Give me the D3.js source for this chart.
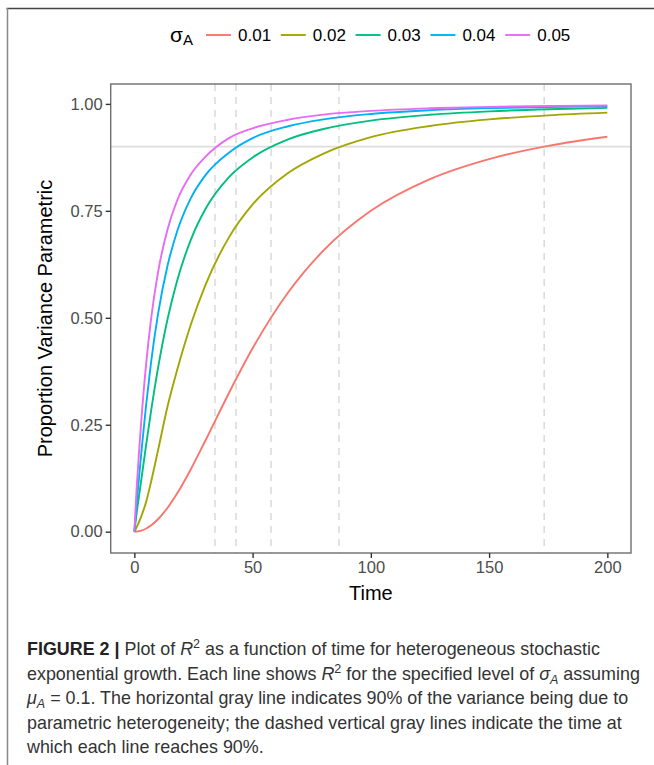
<!DOCTYPE html>
<html lang="en">
  <head>
    <meta charset="utf-8">
    <script src="https://d3js.org/d3.v7.min.js"></script>
    <style>
      body { margin: 0; background: #fff; }
      text { font-family: "Liberation Sans", Arial, sans-serif; }
    </style>
  </head>
  <body>
    <svg id="fig"></svg>
    <script type="text/javascript">

    // time points shared by all curves
    var time = [0,1,2,3,5,7,10,14,18,24,30,40,50,65,80,100,125,150,175,200];

    // proportion of variance, one array per sigma_A level
    var r2_001 = [0,.0003,.0012,.0027,.0075,.0145,.0291,.0555,.0886,.1473,.2126,.3243,.4286,.559,.6575,.75,.8242,.871,.9018,.9231];
    var r2_002 = [0,.011,.023,.037,.070,.115,.190,.292,.376,.486,.576,.688,.765,.8386,.884,.9224,.9484,.9637,.9732,.9795];
    var r2_003 = [0,.0453,.0842,.124,.2034,.2794,.3822,.496,.585,.684,.7536,.8288,.8748,.917,.9414,.9609,.9746,.9826,.9876,.9907];
    var r2_004 = [0,.067,.128,.1876,.2975,.393,.5085,.621,.7006,.781,.833,.886,.920,.9477,.9639,.9764,.9851,.990,.9929,.9948];
    var r2_005 = [0,.1045,.188,.264,.393,.494,.606,.706,.773,.836,.876,.920,.943,.963,.975,.9837,.9897,.9931,.9951,.9964];

    var sigmaLabels = ["0.01","0.02","0.03","0.04","0.05"];
    var colors = ["#F8766D","#A3A500","#00BF7D","#00B0F6","#E76BF3"];

    // time at which each line reaches 90%
    var crossTimes = [173.3, 86.5, 57.8, 43.0, 34.1];
    var threshold = 0.9;

    var xTicks = [0,50,100,150,200];
    var yTicks = [0,0.25,0.5,0.75,1];

    var series = [r2_001, r2_002, r2_003, r2_004, r2_005];

    var W = 654, H = 765;
    var pLeft = 110.7, pRight = 631, pTop = 84, pBottom = 553;

    var svg = d3.select("#fig")
      .attr("width", W)
      .attr("height", H);

    svg.append("rect").attr("width", W).attr("height", H).attr("fill", "#fff");

    // figure frame (top and left rules)
    svg.append("line")
      .attr("x1", 6.5).attr("x2", W).attr("y1", 8.5).attr("y2", 8.5)
      .attr("stroke", "#444").attr("stroke-width", 1.5);
    svg.append("line")
      .attr("x1", 7.5).attr("x2", 7.5).attr("y1", 8).attr("y2", H)
      .attr("stroke", "#888").attr("stroke-width", 1.5);

    var x = d3.scaleLinear().domain([-10, 210]).range([pLeft, pRight]);
    var y = d3.scaleLinear().domain([-0.0498, 1.0465]).range([pBottom, pTop]);

    // reference lines
    svg.selectAll(".vline")
      .data(crossTimes)
      .enter()
      .append("line")
      .attr("class", "vline")
      .attr("x1", function(d){ return x(d); })
      .attr("x2", function(d){ return x(d); })
      .attr("y1", pTop).attr("y2", pBottom)
      .attr("stroke", "#dcdcdc")
      .attr("stroke-width", 1.6)
      .attr("stroke-dasharray", "7,6");

    svg.append("line")
      .attr("x1", pLeft).attr("x2", pRight)
      .attr("y1", y(threshold)).attr("y2", y(threshold))
      .attr("stroke", "#dddddd")
      .attr("stroke-width", 1.6);

    var line = d3.line()
      .x(function(d){ return x(d[0]); })
      .y(function(d){ return y(d[1]); })
      .curve(d3.curveMonotoneX);

    svg.selectAll(".curve")
      .data(series)
      .enter()
      .append("path")
      .attr("class", "curve")
      .attr("fill", "none")
      .attr("stroke", function(d, i){ return colors[i]; })
      .attr("stroke-width", 1.9)
      .attr("stroke-linejoin", "round")
      .attr("d", function(d){
        return line(d.map(function(v, i){ return [time[i], v]; }));
      });

    // panel border
    svg.append("rect")
      .attr("x", pLeft).attr("y", pTop)
      .attr("width", pRight - pLeft).attr("height", pBottom - pTop)
      .attr("fill", "none")
      .attr("stroke", "#6e6e6e")
      .attr("stroke-width", 1.4);

    // axes
    var xAxis = svg.append("g")
      .attr("transform", "translate(0," + pBottom + ")")
      .call(d3.axisBottom(x).tickValues(xTicks).tickSize(5).tickPadding(3).tickFormat(d3.format("d")));
    var yAxis = svg.append("g")
      .attr("transform", "translate(" + pLeft + ",0)")
      .call(d3.axisLeft(y).tickValues(yTicks).tickSize(5).tickPadding(3).tickFormat(d3.format(".2f")));

    [xAxis, yAxis].forEach(function(g){
      g.select(".domain").remove();
      g.selectAll(".tick line").attr("stroke", "#333").attr("stroke-width", 1.4);
      g.selectAll(".tick text")
        .attr("fill", "#4d4d4d")
        .style("font-size", "16.5px")
        .style("font-family", "Liberation Sans, Arial, sans-serif");
    });

    svg.append("text")
      .attr("x", x(100))
      .attr("y", 600)
      .attr("text-anchor", "middle")
      .style("font-size", "20px")
      .attr("fill", "#000")
      .text("Time");

    svg.append("text")
      .attr("transform", "translate(52," + ((pTop + pBottom) / 2) + ") rotate(-90)")
      .attr("text-anchor", "middle")
      .style("font-size", "20px")
      .attr("fill", "#000")
      .text("Proportion Variance Parametric");

    // legend
    var legTitle = svg.append("text")
      .attr("x", 170).attr("y", 42)
      .style("font-size", "21px")
      .attr("fill", "#000");
    legTitle.append("tspan").text("σ");
    legTitle.append("tspan").attr("dy", 3).style("font-size", "15px").text("A");

    var leg = svg.selectAll(".leg")
      .data(sigmaLabels)
      .enter()
      .append("g")
      .attr("class", "leg")
      .attr("transform", function(d, i){ return "translate(" + (206 + i * 74.8) + ",35)"; });

    leg.append("line")
      .attr("x1", 0).attr("x2", 25)
      .attr("stroke", function(d, i){ return colors[i]; })
      .attr("stroke-width", 1.9);

    leg.append("text")
      .attr("x", 32).attr("y", 6)
      .style("font-size", "17px")
      .attr("fill", "#000")
      .text(function(d){ return d; });

    // caption
    var caption = [
      [["FIGURE 2 |","b"],[" Plot of ",""],["R","i"],["2","sup"],[" as a function of time for heterogeneous stochastic",""]],
      [["exponential growth. Each line shows ",""],["R","i"],["2","sup"],[" for the specified level of ",""],["σ","i"],["A","sub"],[" assuming",""]],
      [["μ","i"],["A","sub"],[" = 0.1. The horizontal gray line indicates 90% of the variance being due to",""]],
      [["parametric heterogeneity; the dashed vertical gray lines indicate the time at",""]],
      [["which each line reaches 90%.",""]]
    ];

    caption.forEach(function(segs, li){
      var t = svg.append("text")
        .attr("x", 27)
        .attr("y", 655 + li * 24.6)
        .style("font-size", "17.9px")
        .attr("fill", "#333");
      var off = 0;
      segs.forEach(function(s){
        var want = s[1] == "sup" ? -7 : (s[1] == "sub" ? 4 : 0);
        var ts = t.append("tspan").attr("dy", want - off).text(s[0]);
        off = want;
        if (s[1] == "b") ts.style("font-weight", "bold").attr("fill", "#222");
        if (s[1] == "i") ts.style("font-style", "italic");
        if (s[1] == "sup") ts.style("font-size", "12.5px");
        if (s[1] == "sub") ts.style("font-size", "12.5px").style("font-style", "italic");
      });
    });

    </script>
  </body>
</html>
